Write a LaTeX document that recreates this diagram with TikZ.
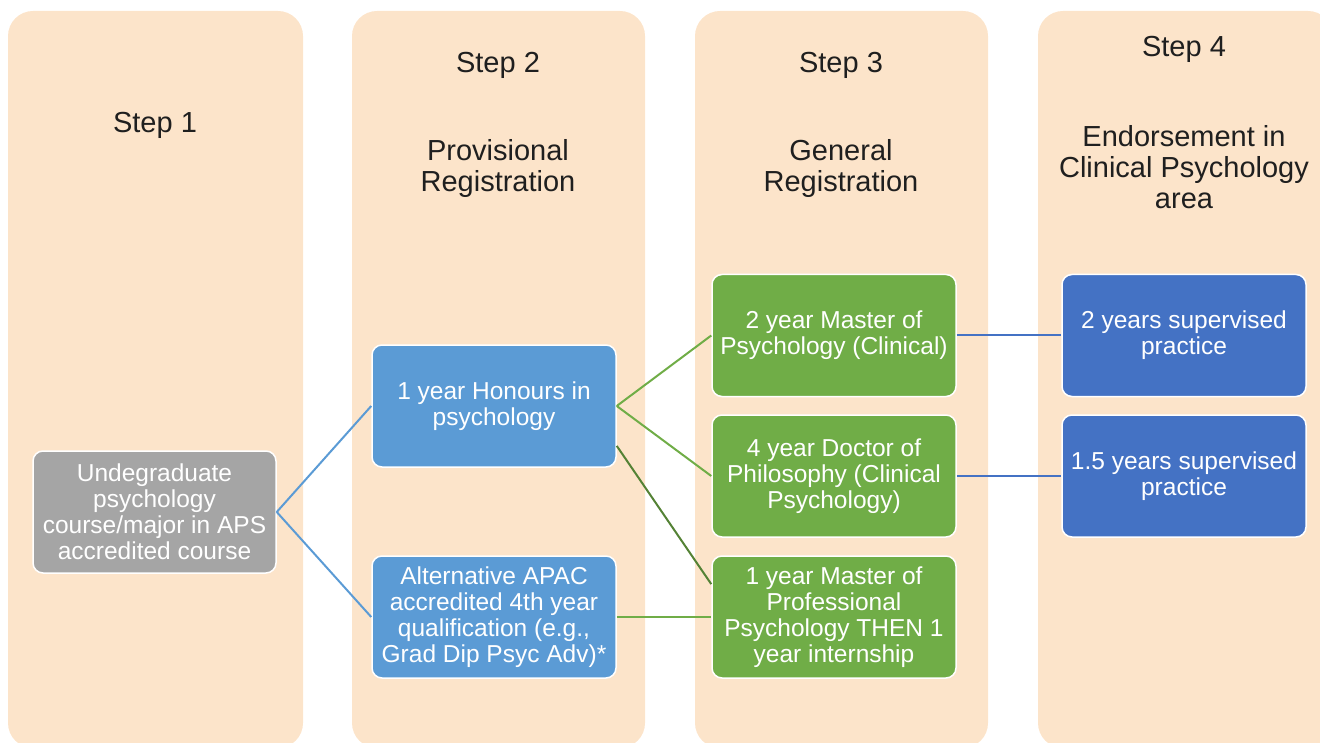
\documentclass[tikz,border=0pt]{standalone}
\usepackage{fontspec}
\setmainfont{Liberation Sans}
\usepackage{tikz}
\usetikzlibrary{positioning}

\definecolor{peach}{HTML}{FCE4CA}
\definecolor{greybox}{HTML}{A5A5A5}
\definecolor{lightblue}{HTML}{5B9BD5}
\definecolor{midgreen}{HTML}{70AD47}
\definecolor{darkgreen}{HTML}{548235}
\definecolor{deepblue}{HTML}{4472C4}

\tikzset{
    column/.style={fill=peach,rounded corners=25pt},
    title/.style={align=center,text=black!88,inner sep=0pt,font=\fontsize{29}{31}\selectfont},
    box/.style={draw=white,line width=1.5pt,rounded corners=10pt,minimum width=244pt,minimum height=122pt,
        inner sep=0pt,align=center,text=white,font=\fontsize{24.5}{26}\selectfont},
    link/.style={color=#1,line width=2pt}
}

\begin{document}
\begin{tikzpicture}[x=1pt,y=-1pt]
    \useasboundingbox (0,0) rectangle (1320,743);
    \fill [column] (8,11) rectangle (303,748);
    \fill [column] (352,11) rectangle (645,748);
    \fill [column] (695,11) rectangle (988,748);
    \fill [column] (1038,11) rectangle (1333,748);

    \node (step1)[title] at (155, 125) {Step 1};
    \node (step2)[title] at (498, 65) {Step 2};
    \node (provisional)[title] at (498, 168.5) {Provisional\\Registration};
    \node (step3)[title] at (841, 65) {Step 3};
    \node (general)[title] at (841, 168.5) {General\\Registration};
    \node (step4)[title] at (1184, 49.5) {Step 4};
    \node (endorsement)[title] at (1184, 167) {Endorsement in\\Clinical Psychology\\area};

    \node (undergrad)[box,fill=greybox,minimum width=243pt] at (154.5, 512) {Undegraduate\\psychology\\course/major in APS\\accredited course};
    \node (honours)[box,fill=lightblue] at (494, 406) {1 year Honours in\\psychology};
    \node (altqual)[box,fill=lightblue] at (494, 617) {Alternative APAC\\accredited 4th year\\qualification (e.g.,\\Grad Dip Psyc Adv)*};
    \node (masterclin)[box,fill=midgreen] at (834, 335.5) {2 year Master of\\Psychology (Clinical)};
    \node (doctor)[box,fill=midgreen] at (834, 476) {4 year Doctor of\\Philosophy (Clinical\\Psychology)};
    \node (masterprof)[box,fill=midgreen] at (834, 617) {1 year Master of\\Professional\\Psychology THEN 1\\year internship};
    \node (supervisedtwo)[box,fill=deepblue] at (1184, 335.5) {2 years supervised\\practice};
    \node (supervisedhalf)[box,fill=deepblue] at (1184, 476) {1.5 years supervised\\practice};

    \path [link=lightblue] (undergrad.east) edge (honours.west);
    \path [link=lightblue] (undergrad.east) edge (altqual.west);
    \path [link=midgreen] (honours.east) edge (masterclin.west);
    \path [link=midgreen] (honours.east) edge (doctor.west);
    \path [link=darkgreen] (honours.-18.6) edge (masterprof.165);
    \path [link=midgreen] (altqual.east) edge (masterprof.west);
    \path [link=deepblue] (masterclin.east) edge (supervisedtwo.west);
    \path [link=deepblue] (doctor.east) edge (supervisedhalf.west);
\end{tikzpicture}
\end{document}
